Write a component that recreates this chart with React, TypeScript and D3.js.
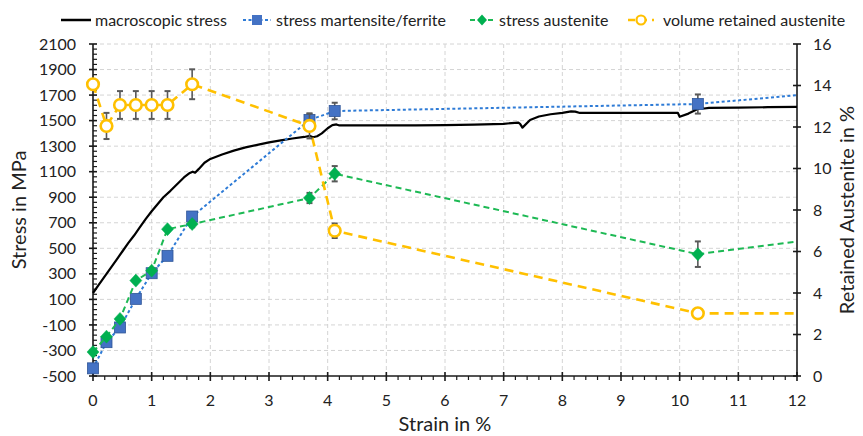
import React from 'react';
import * as d3 from 'd3';

// macroscopic stress curve (strain %, MPa)
const macroStrain = [0, 0.1, 0.2, 0.3, 0.4, 0.5, 0.6, 0.7, 0.8, 0.9, 1.0, 1.1, 1.2, 1.32, 1.45, 1.55, 1.65, 1.7, 1.74, 1.8, 1.9, 2.0, 2.2, 2.4, 2.6, 2.8, 3.0, 3.2, 3.4, 3.6, 3.7, 3.75, 3.82, 3.9, 4.0, 4.08, 4.15, 4.2, 4.5, 5, 5.5, 6, 6.5, 7.0, 7.25, 7.28, 7.32, 7.45, 7.6, 7.8, 8.0, 8.15, 8.22, 8.3, 9, 9.5, 9.97, 10.0, 10.15, 10.35, 10.42, 10.5, 11, 11.5, 12];
const macroStress = [150, 215, 280, 345, 410, 475, 540, 600, 665, 730, 790, 845, 900, 950, 1010, 1055, 1090, 1100, 1092, 1120, 1170, 1200, 1235, 1265, 1290, 1310, 1330, 1345, 1360, 1372, 1380, 1370, 1378, 1400, 1440, 1465, 1470, 1462, 1463, 1463, 1463, 1464, 1468, 1475, 1485, 1475, 1445, 1505, 1532, 1550, 1560, 1572, 1570, 1560, 1560, 1560, 1560, 1530, 1555, 1600, 1595, 1600, 1602, 1605, 1608];

// stress martensite/ferrite
const mfStrain = [0, 0.23, 0.46, 0.73, 1.0, 1.27, 1.69, 3.69, 4.12, 10.31, 12];
const mfStress = [-440, -235, -120, 104, 305, 441, 749, 1505, 1575, 1630, 1700];
const mfErr = [0, 0, 0, 0, 0, 0, 0, 50, 65, 75, 0];
const mfMarker = [true, true, true, true, true, true, true, true, true, true, false];

// stress austenite
const auStrain = [0, 0.23, 0.46, 0.73, 1.0, 1.27, 1.69, 3.69, 4.12, 10.31, 12];
const auStress = [-312, -192, -53, 247, 325, 650, 690, 894, 1084, 454, 553];
const auErr = [0, 0, 0, 0, 0, 0, 25, 40, 60, 100, 0];
const auMarker = [true, true, true, true, true, true, true, true, true, true, false];

// volume retained austenite (secondary axis)
const raStrain = [0, 0.23, 0.46, 0.73, 1.0, 1.27, 1.69, 3.69, 4.12, 10.31, 12];
const raValue = [14.06, 12.05, 13.06, 13.06, 13.06, 13.06, 14.06, 12.05, 7.0, 3.02, 3.02];
const raErr = [0, 0.63, 0.67, 0.67, 0.67, 0.67, 0.72, 0.6, 0.35, 0, 0];
const raMarker = [true, true, true, true, true, true, true, true, true, true, false];

const strainTicks = d3.range(0, 13, 1);
const stressTicks = d3.range(-500, 2101, 200);
const raTicks = d3.range(0, 17, 2);

const legendItems = ['macroscopic stress', 'stress martensite/ferrite', 'stress austenite', 'volume retained austenite'];

const FONT = 'Lato, "Open Sans", sans-serif';
const BLUE = '#2E7BD6';
const BLUE_FILL = '#4472C4';
const GREEN = '#1DB954';
const GREEN_FILL = '#00B050';
const ORANGE = '#FFC000';
const ERR = '#595959';
const GRID = '#D4D4D4';

const W = 863, H = 436;
const left = 93, right = 797, top = 44, bottom = 376;

export default function App() {
  const x = d3.scaleLinear().domain([0, 12]).range([left, right]);
  const y = d3.scaleLinear().domain([-500, 2100]).range([bottom, top]);
  const y2 = d3.scaleLinear().domain([0, 16]).range([bottom, top]);

  const macroLine = d3.line<number>().x((_, i) => x(macroStrain[i])).y(d => y(d));
  const mfLine = d3.line<number>().x((_, i) => x(mfStrain[i])).y(d => y(d));
  const auLine = d3.line<number>().x((_, i) => x(auStrain[i])).y(d => y(d));
  const raLine = d3.line<number>().x((_, i) => x(raStrain[i])).y(d => y2(d));

  const minorX = d3.range(0, 12.001, 0.2).filter(v => Math.abs(v - Math.round(v)) > 0.01);
  const minorY = d3.range(-500, 2100.1, 40).filter(v => (v + 500) % 200 !== 0);

  const errBar = (cx: number, y0: number, y1: number, key: string) => (
    <g key={key} stroke={ERR} strokeWidth={1.6}>
      <line x1={cx} x2={cx} y1={y0} y2={y1} />
      <line x1={cx - 3} x2={cx + 3} y1={y0} y2={y0} strokeWidth={2} />
      <line x1={cx - 3} x2={cx + 3} y1={y1} y2={y1} strokeWidth={2} />
    </g>
  );

  const legendX = [61, 243, 470, 628];
  const legendTextX = [95, 276, 499, 663];
  const ly = 20;

  return (
    <svg width={W} height={H} style={{ position: 'absolute', left: 0, top: 0, background: '#fff' }} fontFamily={FONT}>
      {/* grid */}
      <g stroke={GRID} strokeWidth={1} strokeDasharray="4,3">
        {stressTicks.filter(v => v > -500).map(v => (
          <line key={'gy' + v} x1={left} x2={right} y1={y(v)} y2={y(v)} />
        ))}
        {strainTicks.filter(v => v > 0 && v < 12).map(v => (
          <line key={'gx' + v} x1={x(v)} x2={x(v)} y1={top} y2={bottom} />
        ))}
      </g>

      {/* axes */}
      <g stroke="#1a1a1a" strokeWidth={1.6}>
        <line x1={left} x2={left} y1={top} y2={bottom} />
        <line x1={right} x2={right} y1={top} y2={bottom} />
        <line x1={left} x2={right} y1={bottom} y2={bottom} />
        {stressTicks.map(v => (
          <line key={'ty' + v} x1={left - 4} x2={left + 4} y1={y(v)} y2={y(v)} />
        ))}
        {minorY.map(v => (
          <line key={'mty' + v} x1={left} x2={left + 4} y1={y(v)} y2={y(v)} strokeWidth={1.2} />
        ))}
        {raTicks.map(v => (
          <line key={'ty2' + v} x1={right - 4} x2={right + 4} y1={y2(v)} y2={y2(v)} />
        ))}
        {strainTicks.map(v => (
          <line key={'tx' + v} x1={x(v)} x2={x(v)} y1={bottom - 4} y2={bottom + 5} />
        ))}
        {minorX.map(v => (
          <line key={'mtx' + v} x1={x(v)} x2={x(v)} y1={bottom} y2={bottom + 4} strokeWidth={1.2} />
        ))}
      </g>

      {/* tick labels */}
      <g fontSize={16} fill="#222">
        {stressTicks.map(v => (
          <text key={'ly' + v} x={76} y={y(v)} dy="0.35em" textAnchor="end">{v}</text>
        ))}
        {raTicks.map(v => (
          <text key={'ly2' + v} x={813} y={y2(v)} dy="0.35em" textAnchor="start">{v}</text>
        ))}
        {strainTicks.map(v => (
          <text key={'lx' + v} x={x(v)} y={400} dy="0.35em" textAnchor="middle">{v}</text>
        ))}
      </g>

      {/* axis titles */}
      <g fontSize={20} fill="#222">
        <text x={445} y={424} dy="0.35em" textAnchor="middle">Strain in %</text>
        <text transform={`translate(19,${(top + bottom) / 2}) rotate(-90)`} dy="0.35em" textAnchor="middle">Stress in MPa</text>
        <text transform={`translate(847,${(top + bottom) / 2}) rotate(-90)`} dy="0.35em" textAnchor="middle">Retained Austenite in %</text>
      </g>

      {/* macroscopic stress */}
      <path d={macroLine(macroStress) || ''} fill="none" stroke="#000" strokeWidth={2.2} strokeLinejoin="round" />

      {/* martensite/ferrite */}
      <path d={mfLine(mfStress) || ''} fill="none" stroke={BLUE} strokeWidth={2} strokeDasharray="3,2.5" />
      {mfStress.map((v, i) => mfErr[i] > 0 ? errBar(x(mfStrain[i]), y(v - mfErr[i]), y(v + mfErr[i]), 'emf' + i) : null)}
      {mfStress.map((v, i) => mfMarker[i] ? (
        <rect key={'mmf' + i} x={x(mfStrain[i]) - 5.5} y={y(v) - 5.5} width={11} height={11} fill={BLUE_FILL} stroke="#2F5597" strokeWidth={0.8} />
      ) : null)}

      {/* austenite */}
      <path d={auLine(auStress) || ''} fill="none" stroke={GREEN} strokeWidth={2} strokeDasharray="6,4" />
      {auStress.map((v, i) => auErr[i] > 0 ? errBar(x(auStrain[i]), y(v - auErr[i]), y(v + auErr[i]), 'eau' + i) : null)}
      {auStress.map((v, i) => auMarker[i] ? (
        <path key={'mau' + i} d={`M${x(auStrain[i])},${y(v) - 6.5}l6,6.5l-6,6.5l-6,-6.5z`} fill={GREEN_FILL} stroke={GREEN_FILL} strokeWidth={0.5} />
      ) : null)}

      {/* retained austenite */}
      <path d={raLine(raValue) || ''} fill="none" stroke={ORANGE} strokeWidth={2.6} strokeDasharray="9,6" />
      {raValue.map((v, i) => raErr[i] > 0 ? errBar(x(raStrain[i]), y2(v - raErr[i]), y2(v + raErr[i]), 'era' + i) : null)}
      {raValue.map((v, i) => raMarker[i] ? (
        <circle key={'mra' + i} cx={x(raStrain[i])} cy={y2(v)} r={5.8} fill="#fff" stroke={ORANGE} strokeWidth={2.6} />
      ) : null)}

      {/* legend */}
      <g fontSize={16} fill="#222">
        <line x1={legendX[0]} x2={legendX[0] + 30} y1={ly} y2={ly} stroke="#000" strokeWidth={2.5} />
        <line x1={legendX[1]} x2={legendX[1] + 28} y1={ly} y2={ly} stroke={BLUE} strokeWidth={2} strokeDasharray="3,2.5" />
        <rect x={legendX[1] + 9} y={ly - 5} width={10} height={10} fill={BLUE_FILL} />
        <line x1={legendX[2]} x2={legendX[2] + 24} y1={ly} y2={ly} stroke={GREEN} strokeWidth={2} strokeDasharray="5,4" />
        <path d={`M${legendX[2] + 12},${ly - 5.5}l5,5.5l-5,5.5l-5,-5.5z`} fill={GREEN_FILL} />
        <line x1={legendX[3]} x2={legendX[3] + 26} y1={ly} y2={ly} stroke={ORANGE} strokeWidth={2.5} strokeDasharray="7,5" />
        <circle cx={legendX[3] + 13} cy={ly} r={4.5} fill="#fff" stroke={ORANGE} strokeWidth={2.2} />
        {legendItems.map((t, i) => (
          <text key={t} x={legendTextX[i]} y={ly} dy="0.35em">{t}</text>
        ))}
      </g>
    </svg>
  );
}
